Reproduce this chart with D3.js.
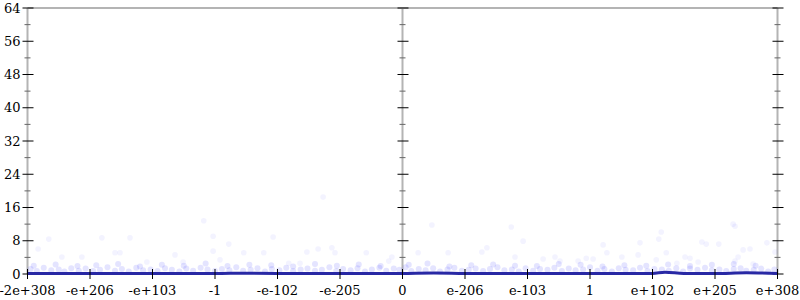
<!DOCTYPE html>
<html>
<head>
<meta charset="utf-8">
<script src="https://cdn.jsdelivr.net/npm/d3@7"></script>
<style>
  body { margin: 0; background: #fff; }
  text { font-family: "DejaVu Serif", serif; font-size: 13px; fill: #000; }
</style>
</head>
<body>
<div id="chart" style="width:800px;height:300px"></div>
<script>
// x is the position on the mapped float line (-6 .. 6), y is the error
var xTickLabels = ["-2e+308", "-e+206", "-e+103", "-1", "-e-102", "-e-205", "0",
                   "e-206", "e-103", "1", "e+102", "e+205", "e+308"];
var yMajorTicks = [0, 8, 16, 24, 32, 40, 48, 56, 64];
var yMinorTicks = [4, 12, 20, 28, 36, 44, 52, 60];
var axisPositions = [-6, 0, 6];

// mean line along the bottom
var lineX = [-6, -5.5, -5, -4.5, -4, -3.5, -3, -2.5, -2, -1.5, -1, -0.5, 0,
             0.5, 1, 1.5, 2, 2.5, 3, 3.5, 4, 4.2, 4.5, 5, 5.5, 6];
var lineY = [0.15, 0.12, 0.15, 0.12, 0.12, 0.15, 0.12, 0.2, 0.15, 0.12, 0.15, 0.12, 0.15,
             0.25, 0.15, 0.12, 0.12, 0.15, 0.12, 0.12, 0.15, 0.45, 0.15, 0.12, 0.3, 0.15];

// dense band of small errors
var bandX = [-5.95, -5.85, -5.74, -5.62, -5.5, -5.41, -5.3, -5.18, -5.07, -4.95, -4.84, -4.72,
             -4.6, -4.49, -4.38, -4.26, -4.15, -4.03, -3.92, -3.8, -3.69, -3.57, -3.46, -3.35,
             -3.23, -3.12, -3.0, -2.89, -2.77, -2.66, -2.55, -2.43, -2.32, -2.2, -2.09, -1.97,
             -1.86, -1.75, -1.63, -1.52, -1.4, -1.29, -1.17, -1.06, -0.95, -0.83, -0.72, -0.6,
             -0.49, -0.37, -0.26, -0.14, -0.05, 0.05, 0.14, 0.26, 0.37, 0.49, 0.6, 0.72, 0.83,
             0.95, 1.06, 1.17, 1.29, 1.4, 1.52, 1.63, 1.75, 1.86, 1.97, 2.09, 2.2, 2.32, 2.43,
             2.55, 2.66, 2.77, 2.89, 3.0, 3.12, 3.23, 3.35, 3.46, 3.57, 3.69, 3.8, 3.92, 4.03,
             4.15, 4.26, 4.38, 4.49, 4.6, 4.72, 4.84, 4.95, 5.07, 5.18, 5.3, 5.41, 5.5, 5.62,
             5.74, 5.85, 5.95,
             -5.9, -5.55, -5.2, -4.9, -4.55, -4.2, -3.85, -3.5, -3.15, -2.8, -2.45, -2.1, -1.75,
             -1.4, -1.05, -0.7, -0.35, 0.1, 0.4, 0.75, 1.1, 1.45, 1.8, 2.15, 2.5, 2.85, 3.2,
             3.55, 3.9, 4.25, 4.6, 4.95, 5.3, 5.65];
var bandY = [1.2, 0.7, 1.5, 0.9, 1.1, 0.6, 1.4, 0.8, 1.3, 0.7, 1.0, 1.6, 0.8, 1.2, 0.6, 1.5,
             0.9, 1.1, 0.7, 1.4, 1.0, 0.6, 1.3, 0.8, 1.5, 1.1, 0.7, 1.2, 0.9, 1.6, 0.8, 1.0,
             1.4, 0.6, 1.2, 0.9, 1.5, 0.7, 1.1, 1.3, 0.8, 1.0, 1.6, 0.7, 1.2, 0.9, 1.4, 0.6,
             1.1, 1.5, 0.8, 1.3, 1.0, 1.6, 0.7, 1.2, 0.9, 1.4, 0.6, 1.1, 1.5, 0.8, 1.0, 1.3,
             0.7, 1.2, 1.6, 0.9, 1.1, 0.6, 1.4, 0.8, 1.2, 1.0, 1.5, 0.7, 1.3, 0.9, 1.1, 1.6,
             0.8, 1.2, 0.6, 1.4, 1.0, 0.9, 1.5, 0.7, 1.2, 1.1, 0.8, 1.4, 0.6, 1.3, 1.0, 1.5,
             0.9, 1.1, 0.7, 1.2, 1.4, 0.8, 1.0, 1.3, 0.6, 1.1,
             2.0, 2.3, 1.9, 2.1, 2.4, 1.8, 2.2, 2.0, 2.5, 1.9, 2.2, 2.1, 1.8, 2.4, 2.0, 2.3,
             1.9, 2.2, 2.5, 1.8, 2.1, 2.3, 2.0, 1.9, 2.4, 2.2, 1.8, 2.1, 2.0, 2.3, 1.9, 2.2,
             2.4, 2.0];

// scattered larger errors
var outX = [-5.83, -5.66, -5.45, -5.13, -4.81, -4.6, -4.52, -4.36, -4.09, -3.64, -3.51, -3.18,
            -3.03, -3.03, -2.92, -2.78, -2.54, -2.22, -2.07, -1.82, -1.64, -1.53, -1.35, -1.27,
            -1.13, -1.08, -0.58, -0.22, -0.17, 0.25, 0.47, 0.73, 1.27, 1.35, 1.74, 1.8, 1.93,
            2.25, 2.44, 2.52, 2.81, 2.94, 3.05, 3.21, 3.27, 3.51, 3.77, 3.8, 4.06, 4.1, 4.14,
            4.22, 4.39, 4.52, 4.6, 4.73, 4.79, 4.86, 5.06, 5.29, 5.32, 5.32, 5.37, 5.45, 5.56,
            5.61, 5.83, 5.96];
var outY = [6.0, 8.4, 4.1, 4.1, 8.7, 5.1, 5.1, 8.7, 2.9, 4.6, 2.9, 12.8, 9.1, 5.5, 3.4, 7.2,
            5.1, 5.1, 8.9, 2.6, 2.6, 5.3, 6.0, 18.5, 6.3, 5.1, 5.1, 3.1, 4.1, 5.1, 11.8, 5.1,
            5.3, 6.3, 11.3, 4.1, 7.9, 3.6, 4.1, 3.1, 3.1, 3.8, 3.6, 7.0, 5.1, 4.1, 4.6, 7.5,
            3.4, 8.4, 10.1, 5.1, 2.6, 4.1, 3.8, 2.9, 7.7, 7.2, 7.2, 12.0, 11.5, 3.1, 4.1, 5.8,
            6.0, 2.4, 7.5, 5.3];

var margin = {top: 8, right: 22.5, bottom: 26, left: 27.5};
var width = 800 - margin.left - margin.right;
var height = 300 - margin.top - margin.bottom;

var svg = d3.select("#chart").append("svg")
    .attr("width", 800)
    .attr("height", 300)
    .append("g")
    .attr("transform", "translate(" + margin.left + "," + margin.top + ")");

var xScale = d3.scaleLinear().domain([-6, 6]).range([0, width]);
var yScale = d3.scaleLinear().domain([0, 64]).range([height, 0]);
var xTicks = d3.range(-6, 7);

// frame: top border and the three vertical axes
svg.append("line")
    .attr("x1", 0).attr("x2", width)
    .attr("y1", 0).attr("y2", 0)
    .style("stroke", "#b4b4b4").style("stroke-width", 2);

axisPositions.forEach(function(p) {
    var g = svg.append("g");
    g.append("line")
        .attr("x1", xScale(p)).attr("x2", xScale(p))
        .attr("y1", 0).attr("y2", height)
        .style("stroke", "#b4b4b4").style("stroke-width", 2);
    g.selectAll(".minor").data(yMinorTicks).enter().append("line")
        .attr("x1", xScale(p) - 3).attr("x2", xScale(p) + 3)
        .attr("y1", function(d) { return yScale(d); })
        .attr("y2", function(d) { return yScale(d); })
        .style("stroke", "#666").style("stroke-width", 1);
    g.selectAll(".major").data(yMajorTicks).enter().append("line")
        .attr("x1", xScale(p) - 5).attr("x2", xScale(p) + 6)
        .attr("y1", function(d) { return yScale(d); })
        .attr("y2", function(d) { return yScale(d); })
        .style("stroke", "#000").style("stroke-width", 1);
});

// y labels
svg.selectAll(".ylabel").data(yMajorTicks).enter().append("text")
    .attr("x", -7)
    .attr("y", function(d) { return yScale(d); })
    .attr("dy", "0.35em")
    .style("text-anchor", "end")
    .text(function(d) { return d; });

// points
var pts = svg.append("g");
pts.selectAll(".band").data(d3.zip(bandX, bandY)).enter().append("circle")
    .attr("cx", function(d) { return xScale(d[0]); })
    .attr("cy", function(d) { return yScale(d[1]); })
    .attr("r", 3)
    .style("fill", "#3030ff")
    .style("fill-opacity", 0.13);

pts.selectAll(".out").data(d3.zip(outX, outY)).enter().append("circle")
    .attr("cx", function(d) { return xScale(d[0]); })
    .attr("cy", function(d) { return yScale(d[1]); })
    .attr("r", 2.8)
    .style("fill", "#3030ff")
    .style("fill-opacity", 0.06);

var line = d3.line()
    .x(function(d) { return xScale(d[0]); })
    .y(function(d) { return yScale(d[1]); })
    .curve(d3.curveMonotoneX);

svg.append("path")
    .datum(d3.zip(lineX, lineY))
    .attr("fill", "none")
    .attr("stroke", "#2828a4")
    .attr("stroke-width", 3)
    .attr("d", line);

// x ticks and labels
svg.selectAll(".xtick").data(xTicks).enter().append("line")
    .attr("x1", function(d) { return xScale(d); })
    .attr("x2", function(d) { return xScale(d); })
    .attr("y1", height - 5).attr("y2", height + 5)
    .style("stroke", "#000").style("stroke-width", 1);

svg.selectAll(".xlabel").data(xTicks).enter().append("text")
    .attr("x", function(d) { return xScale(d); })
    .attr("y", height + 21)
    .style("text-anchor", "middle")
    .text(function(d, i) { return xTickLabels[i]; });
</script>
</body>
</html>
